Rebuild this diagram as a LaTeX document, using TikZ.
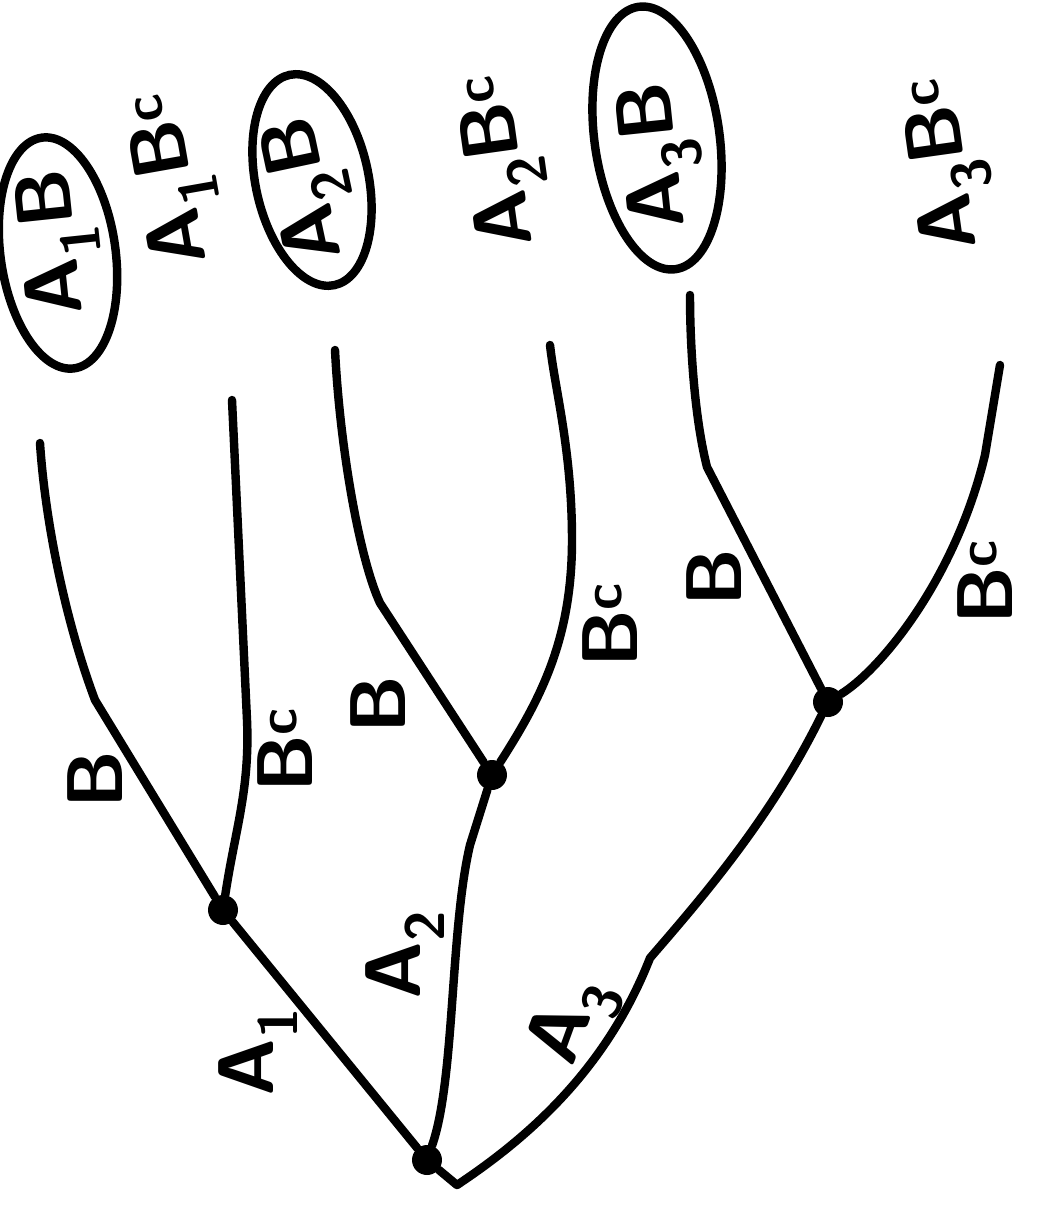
\documentclass[tikz,border=0pt]{standalone}
\usetikzlibrary{shapes.geometric}
\tikzset{
  branch/.style={line width=4.8pt, line cap=round, line join=round},
  dot/.style={circle, fill, inner sep=0pt, minimum size=0.6cm},
  lbl/.style={rotate=90, inner sep=0pt, font=\sffamily\bfseries\fontsize{45}{50}\selectfont},
  ring/.style={ellipse, draw, line width=4.8pt, inner sep=0pt},
}
\begin{document}
\begin{tikzpicture}[x=0.02cm, y=-0.02cm]
  \useasboundingbox (0,0) rectangle (1042,1205);
  % branch points
  \node[dot] (root) at (427,1160) {};
  \node[dot] (n1) at (223,910) {};
  \node[dot] (n2) at (492,775) {};
  \node[dot] (n3) at (828,702) {};
  \coordinate (stub) at (457,1185);
  % leaf ends
  \coordinate (e1) at (40,443);
  \coordinate (e2) at (232,400);
  \coordinate (e3) at (335,350);
  \coordinate (e4) at (550,345);
  \coordinate (e5) at (690,295);
  \coordinate (e6) at (1000,365);
  % first split
  \draw[branch] (root) -- (n1);
  \draw[branch] (root) .. controls (455,1080) and (450,930) .. (470,845) -- (n2);
  \draw[branch] (root) -- (stub) .. controls (540,1130) and (610,1060) .. (650,958) .. controls (700,900) and (770,820) .. (n3);
  % second split
  \draw[branch] (n1) -- (95,700) .. controls (65,620) and (45,520) .. (e1);
  \draw[branch] (n1) .. controls (235,830) and (250,790) .. (247,720) -- (e2);
  \draw[branch] (n2) -- (380,603) .. controls (360,560) and (340,450) .. (e3);
  \draw[branch] (n2) .. controls (540,700) and (572,640) .. (572,540) .. controls (572,450) and (555,390) .. (e4);
  \draw[branch] (n3) -- (707,467) .. controls (695,420) and (690,350) .. (e5);
  \draw[branch] (n3) .. controls (880,670) and (955,580) .. (985,455) -- (e6);
  % branch labels
  \node[lbl] (la1) at (258,1052) {A\textsubscript{1}};
  \node[lbl] (la2) at (405,955) {A\textsubscript{2}};
  \node[lbl, rotate=-20] (la3) at (574,1022) {A\textsubscript{3}};
  \node[lbl] (lb1) at (95,780) {B};
  \node[lbl] (lc1) at (285,750) {B\textsuperscript{c}};
  \node[lbl] (lb2) at (378,705) {B};
  \node[lbl] (lc2) at (610,625) {B\textsuperscript{c}};
  \node[lbl] (lb3) at (714,578) {B};
  \node[lbl] (lc3) at (985,582) {B\textsuperscript{c}};
  % outcomes
  \node[lbl, rotate=6] (o1) at (60,242) {A\textsubscript{1}B};
  \node[ring, rotate=8, minimum width=2.3cm, minimum height=4.66cm] (r1) at (58,253) {};
  \node[lbl, rotate=10] (o2) at (176,178) {A\textsubscript{1}B\textsuperscript{c}};
  \node[lbl, rotate=12] (o3) at (311,188) {A\textsubscript{2}B};
  \node[ring, rotate=12, minimum width=2.26cm, minimum height=4.3cm] (r3) at (312,180) {};
  \node[lbl, rotate=8] (o4) at (505,160) {A\textsubscript{2}B\textsuperscript{c}};
  \node[lbl, rotate=6] (o5) at (662,155) {A\textsubscript{3}B};
  \node[ring, rotate=8, minimum width=2.5cm, minimum height=5.3cm] (r5) at (657,138) {};
  \node[lbl, rotate=8] (o6) at (950,163) {A\textsubscript{3}B\textsuperscript{c}};
\end{tikzpicture}
\end{document}
